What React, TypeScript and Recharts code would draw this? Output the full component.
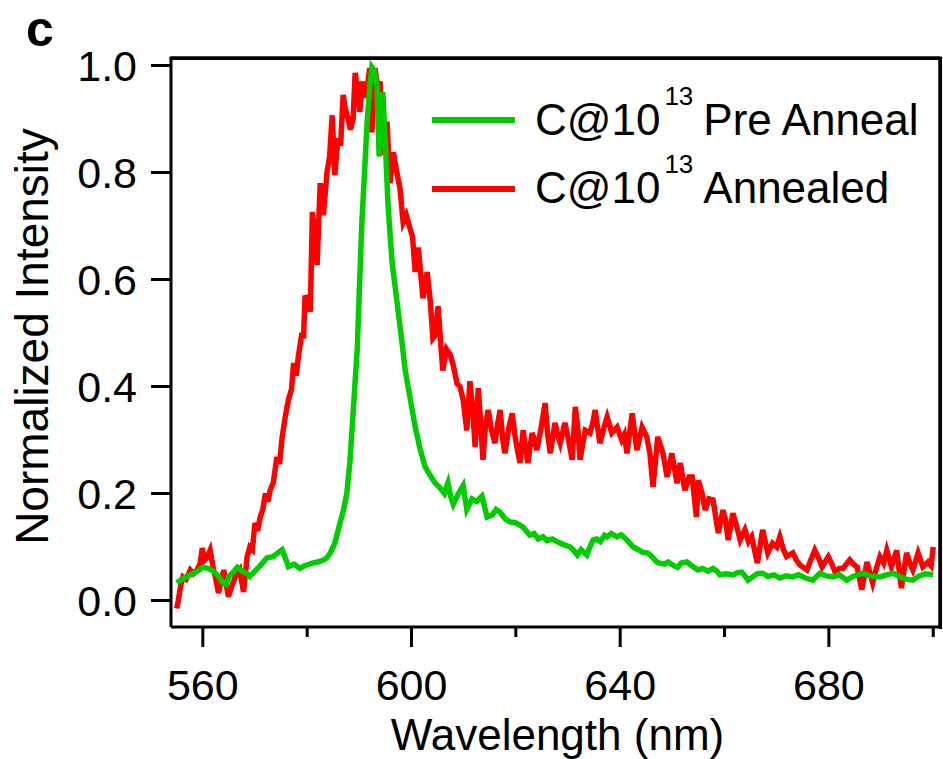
import React from 'react';
import { LineChart, Line, XAxis, YAxis, Legend, ReferenceLine } from 'recharts';

// ---- data ----
const greenWavelength = [
  555.0, 556.0, 557.0, 558.0, 559.0, 560.0, 561.0, 562.0, 563.0, 564.0, 564.5, 565.0, 566.0, 566.6, 567.5, 568.5, 569.0, 570.0, 571.0, 572.3,
  573.5, 574.5, 575.2, 576.0, 576.4, 577.5, 578.6, 579.5, 580.5, 581.0, 582.0, 583.0, 583.8, 584.5, 585.3, 586.3, 587.0, 587.6, 588.2, 588.6,
  589.0, 589.6, 590.0, 590.5, 591.0, 591.5, 592.0, 592.4, 592.9, 593.4, 593.8, 594.2, 594.5, 595.0, 595.5, 596.0, 596.3, 597.2, 598.2, 598.8,
  599.7, 600.7, 601.6, 602.6, 603.5, 604.5, 605.5, 606.3, 607.0, 607.5, 608.0, 609.0, 609.9, 610.6, 611.6, 612.5, 613.5, 614.5, 615.5, 616.2,
  617.0, 618.0, 618.9, 620.0, 621.4, 622.0, 622.7, 623.5, 624.3, 625.2, 626.0, 627.0, 627.9, 629.0, 630.4, 631.0, 631.8, 632.5, 633.6, 634.2,
  634.8, 635.5, 636.2, 637.0, 637.5, 638.3, 639.4, 640.2, 641.3, 642.5, 643.5, 644.3, 645.2, 646.0, 647.0, 647.6, 648.5, 649.2, 650.1, 651.0,
  651.7, 652.8, 653.7, 654.9, 655.8, 656.8, 657.8, 658.5, 659.1, 660.2, 661.6, 662.5, 663.3, 664.0, 664.5, 665.5, 666.3, 667.3, 668.3, 669.5,
  670.6, 671.8, 673.0, 674.2, 675.5, 676.9, 678.3, 679.5, 680.8, 682.0, 683.4, 684.6, 686.5, 687.8, 689.8, 691.0, 692.3, 693.5, 694.8, 696.1,
  697.3, 698.5, 700.0,
];
const greenIntensity = [
  0.033, 0.040, 0.045, 0.050, 0.055, 0.062, 0.060, 0.055, 0.045, 0.032, 0.030, 0.045, 0.055, 0.062, 0.055, 0.050, 0.045, 0.055, 0.065, 0.080,
  0.082, 0.090, 0.095, 0.075, 0.063, 0.068, 0.060, 0.065, 0.068, 0.070, 0.072, 0.075, 0.080, 0.090, 0.107, 0.145, 0.170, 0.200, 0.260, 0.320,
  0.380, 0.470, 0.580, 0.710, 0.800, 0.895, 0.960, 0.997, 0.990, 0.960, 0.830, 0.880, 0.950, 0.850, 0.740, 0.670, 0.630, 0.560, 0.480, 0.430,
  0.380, 0.325, 0.285, 0.250, 0.235, 0.220, 0.210, 0.200, 0.220, 0.195, 0.180, 0.200, 0.215, 0.170, 0.190, 0.185, 0.195, 0.156, 0.160, 0.170,
  0.165, 0.152, 0.147, 0.145, 0.137, 0.130, 0.122, 0.125, 0.115, 0.119, 0.112, 0.115, 0.110, 0.105, 0.100, 0.095, 0.085, 0.095, 0.085, 0.100,
  0.113, 0.115, 0.110, 0.122, 0.119, 0.125, 0.119, 0.123, 0.113, 0.100, 0.095, 0.090, 0.089, 0.083, 0.072, 0.070, 0.068, 0.072, 0.066, 0.062,
  0.070, 0.072, 0.065, 0.057, 0.060, 0.055, 0.060, 0.055, 0.048, 0.050, 0.048, 0.052, 0.053, 0.045, 0.038, 0.045, 0.050, 0.051, 0.045, 0.048,
  0.042, 0.046, 0.044, 0.048, 0.042, 0.038, 0.051, 0.046, 0.044, 0.048, 0.038, 0.045, 0.051, 0.046, 0.044, 0.048, 0.051, 0.045, 0.040, 0.038,
  0.046, 0.050, 0.048,
];

const redWavelength = [
  555.0, 555.3, 555.8, 556.2, 556.8, 557.6, 558.2, 558.9, 559.5, 559.9, 560.3, 560.8, 561.4, 562.0, 562.5, 563.0, 563.5, 564.0, 564.5, 564.9,
  565.5, 566.2, 567.1, 567.8, 568.5, 569.0, 569.5, 570.0, 570.5, 571.0, 571.5, 572.0, 572.5, 572.9, 573.5, 574.2, 574.7, 575.2, 575.8, 576.4,
  577.0, 577.4, 577.9, 578.3, 579.0, 579.3, 579.6, 580.1, 580.6, 581.0, 581.5, 581.9, 582.5, 583.1, 583.8, 584.3, 584.8, 585.3, 585.9, 586.4,
  586.9, 587.3, 587.8, 588.3, 588.8, 589.2, 589.7, 590.1, 590.5, 591.0, 591.5, 592.0, 592.4, 593.0, 593.5, 594.0, 594.6, 595.3, 595.9, 596.5,
  597.2, 597.8, 598.4, 599.0, 599.7, 600.2, 600.7, 601.3, 602.2, 603.0, 603.6, 604.1, 604.5, 605.1, 605.6, 606.0, 606.7, 607.4, 608.0, 608.7,
  609.3, 609.9, 610.6, 611.2, 611.7, 612.2, 612.8, 613.2, 613.7, 614.2, 614.7, 615.3, 616.0, 616.5, 617.0, 617.5, 617.9, 618.6, 619.3, 619.8,
  620.2, 620.8, 621.4, 621.8, 622.3, 623.1, 623.6, 624.0, 624.8, 625.6, 626.1, 626.6, 627.5, 628.0, 628.5, 629.4, 630.1, 630.8, 631.4, 631.9,
  632.3, 633.3, 634.2, 634.7, 635.2, 636.1, 636.8, 637.5, 638.4, 639.4, 640.3, 640.8, 641.3, 642.3, 643.2, 644.2, 645.1, 645.7, 646.3, 647.2,
  648.2, 649.0, 649.9, 650.9, 651.5, 652.4, 653.2, 653.8, 654.6, 655.0, 655.7, 656.3, 657.0, 657.8, 658.8, 659.7, 660.2, 660.7, 661.6, 662.3,
  663.0, 663.9, 664.6, 665.2, 666.3, 667.3, 668.3, 669.2, 670.0, 670.6, 671.3, 671.9, 673.1, 673.8, 674.5, 675.8, 676.5, 677.3, 678.0, 678.7,
  679.9, 680.5, 681.2, 682.0, 682.7, 684.0, 684.7, 685.4, 686.3, 687.3, 688.4, 689.1, 689.8, 690.5, 691.1, 692.0, 693.0, 693.9, 694.9, 695.5,
  696.1, 697.1, 698.0, 699.0, 699.6, 700.0,
];
const redIntensity = [
  -0.015, 0.000, 0.030, 0.044, 0.040, 0.057, 0.050, 0.057, 0.070, 0.098, 0.075, 0.080, 0.094, 0.060, 0.040, 0.014, 0.035, 0.057, 0.030, 0.007,
  0.025, 0.044, 0.057, 0.016, 0.082, 0.100, 0.095, 0.145, 0.130, 0.156, 0.170, 0.200, 0.185, 0.206, 0.220, 0.268, 0.255, 0.305, 0.343, 0.375,
  0.395, 0.444, 0.420, 0.455, 0.500, 0.490, 0.570, 0.560, 0.540, 0.726, 0.680, 0.627, 0.780, 0.720, 0.800, 0.830, 0.907, 0.795, 0.864, 0.850,
  0.945, 0.920, 0.902, 0.880, 0.900, 0.986, 0.950, 0.913, 0.970, 0.940, 0.958, 0.995, 0.875, 0.995, 0.960, 0.970, 0.833, 0.895, 0.780, 0.838,
  0.800, 0.770, 0.707, 0.720, 0.696, 0.680, 0.614, 0.660, 0.565, 0.614, 0.560, 0.490, 0.495, 0.550, 0.480, 0.430, 0.470, 0.460, 0.440, 0.406,
  0.400, 0.375, 0.318, 0.410, 0.360, 0.287, 0.397, 0.340, 0.263, 0.330, 0.356, 0.320, 0.294, 0.330, 0.356, 0.300, 0.275, 0.320, 0.350, 0.310,
  0.287, 0.257, 0.318, 0.290, 0.257, 0.313, 0.300, 0.281, 0.320, 0.369, 0.310, 0.275, 0.332, 0.310, 0.294, 0.332, 0.300, 0.263, 0.362, 0.320,
  0.263, 0.318, 0.313, 0.330, 0.356, 0.294, 0.320, 0.343, 0.313, 0.324, 0.300, 0.310, 0.275, 0.350, 0.281, 0.324, 0.306, 0.275, 0.212, 0.306,
  0.275, 0.231, 0.275, 0.219, 0.257, 0.206, 0.231, 0.231, 0.156, 0.225, 0.200, 0.169, 0.190, 0.188, 0.126, 0.169, 0.150, 0.113, 0.163, 0.140,
  0.113, 0.132, 0.110, 0.119, 0.070, 0.132, 0.089, 0.107, 0.100, 0.119, 0.095, 0.082, 0.089, 0.075, 0.066, 0.057, 0.075, 0.094, 0.080, 0.063,
  0.082, 0.070, 0.053, 0.060, 0.060, 0.076, 0.068, 0.063, 0.020, 0.072, 0.033, 0.060, 0.082, 0.070, 0.094, 0.063, 0.094, 0.023, 0.089, 0.070,
  0.057, 0.089, 0.063, 0.072, 0.065, 0.100,
];

const xTicks = [560, 580, 600, 620, 640, 660, 680, 700];
const yTicks = [0, 0.2, 0.4, 0.6, 0.8, 1.0];
const xDomain = [553.9, 701.3];
const yDomain = [-0.0495, 1.014];

const legendItems = [
  { base: 'C@10', sup: '13', rest: 'Pre Anneal', color: '#00CC00' },
  { base: 'C@10', sup: '13', rest: 'Annealed', color: '#FF0000' },
];

const GREEN = '#00CC00';
const RED = '#FF0000';
const FONT = '"Liberation Sans", Arial, Helvetica, sans-serif';

// layout of the plot box (used both for the chart margins and the frame)
const W = 943;
const H = 759;
const PLOT_LEFT = 171;
const PLOT_TOP = 58;
const PLOT_RIGHT = 940;
const PLOT_BOTTOM = 627;
const FRAME = 3;

const greenData = greenWavelength.map((x, i) => ({ x, y: greenIntensity[i] }));
const redData = redWavelength.map((x, i) => ({ x, y: redIntensity[i] }));

const XTick = (props: any) => {
  const { x, y, payload } = props;
  const major = Math.round(payload.value) % 40 === 0;
  return (
    <g>
      <line x1={x} x2={x} y1={y} y2={y + (major ? 20 : 10)} stroke="#000" strokeWidth={3} />
      {major && (
        <text x={x} y={y + 73} textAnchor="middle" fontSize={43} fontFamily={FONT} fill="#000">
          {payload.value}
        </text>
      )}
    </g>
  );
};

const YTick = (props: any) => {
  const { x, y, payload } = props;
  return (
    <g>
      <line x1={x - 20} x2={x} y1={y} y2={y} stroke="#000" strokeWidth={3} />
      <text x={x - 34} y={y + 15.5} textAnchor="end" fontSize={43} fontFamily={FONT} fill="#000">
        {Number(payload.value).toFixed(1)}
      </text>
    </g>
  );
};

const LegendContent = () => (
  <svg width={W} height={H} style={{ position: 'absolute', left: 0, top: 0, overflow: 'visible' }}>
    <line x1={PLOT_LEFT - 1.5} x2={PLOT_RIGHT + 1.5} y1={PLOT_TOP} y2={PLOT_TOP} stroke="#000" strokeWidth={FRAME} />
    <line x1={PLOT_RIGHT} x2={PLOT_RIGHT} y1={PLOT_TOP} y2={PLOT_BOTTOM} stroke="#000" strokeWidth={FRAME} />
    <text x={26} y={46} fontSize={50} fontWeight="bold" fontFamily={FONT} fill="#000">c</text>
    {legendItems.map((item, i) => {
      const lineY = 120 + i * 69;
      const baseY = 135 + i * 68;
      return (
        <g key={i}>
          <line x1={432} x2={515} y1={lineY} y2={lineY} stroke={item.color} strokeWidth={6} />
          <text x={535} y={baseY} fontSize={44} fontFamily={FONT} fill="#000">
            {item.base}
            <tspan dx={4} dy={-30} fontSize={26}>{item.sup}</tspan>
            <tspan dx={10} dy={30} fontSize={44}>{item.rest}</tspan>
          </text>
        </g>
      );
    })}
  </svg>
);

export default function App() {
  return (
    <div style={{ position: 'absolute', left: 0, top: 0, width: W, height: H, background: '#fff' }}>
      <LineChart width={W} height={H} margin={{ top: PLOT_TOP, right: W - PLOT_RIGHT, bottom: 0, left: 0 }}>
        <XAxis
          dataKey="x"
          type="number"
          domain={xDomain}
          allowDataOverflow
          ticks={xTicks}
          interval={0}
          height={H - PLOT_BOTTOM}
          tickSize={0}
          tickMargin={0}
          tickLine={false}
          axisLine={{ stroke: '#000', strokeWidth: 3 }}
          tick={<XTick />}
          label={{
            content: () => (
              <text x={557.5} y={750} textAnchor="middle" fontSize={44} fontFamily={FONT} fill="#000">
                Wavelength (nm)
              </text>
            ),
          }}
        />
        <YAxis
          type="number"
          domain={yDomain}
          allowDataOverflow
          ticks={yTicks}
          interval={0}
          width={PLOT_LEFT}
          tickSize={0}
          tickMargin={0}
          tickLine={false}
          axisLine={{ stroke: '#000', strokeWidth: 3 }}
          tick={<YTick />}
          label={{
            content: () => (
              <text
                transform="translate(48,336.5) rotate(-90)"
                textAnchor="middle"
                fontSize={46}
                fontFamily={FONT}
                fill="#000"
              >
                Normalized Intensity
              </text>
            ),
          }}
        />
        <Line
          data={redData}
          dataKey="y"
          name="C@10^13 Annealed"
          stroke={RED}
          strokeWidth={5.5}
          dot={false}
          type="linear"
          isAnimationActive={false}
        />
        <Line
          data={greenData}
          dataKey="y"
          name="C@10^13 Pre Anneal"
          stroke={GREEN}
          strokeWidth={5.5}
          dot={false}
          type="linear"
          isAnimationActive={false}
        />
        <ReferenceLine y={yDomain[1]} stroke="#000" strokeWidth={FRAME} ifOverflow="visible" />
        <ReferenceLine x={xDomain[1]} stroke="#000" strokeWidth={FRAME} ifOverflow="visible" />
        <Legend
          layout="horizontal"
          verticalAlign="middle"
          align="center"
          wrapperStyle={{ position: 'absolute', left: 0, top: 0, width: W, height: H, pointerEvents: 'none' }}
          content={<LegendContent />}
        />
      </LineChart>
      {/* top and right sides of the plot frame */}
      <div
        style={{
          position: 'absolute',
          left: PLOT_LEFT - FRAME / 2,
          top: PLOT_TOP - FRAME / 2,
          width: PLOT_RIGHT - PLOT_LEFT + FRAME,
          height: PLOT_BOTTOM - PLOT_TOP + FRAME,
          borderTop: `${FRAME}px solid #000`,
          borderRight: `${FRAME}px solid #000`,
          boxSizing: 'border-box',
          pointerEvents: 'none',
        }}
      />
    </div>
  );
}
